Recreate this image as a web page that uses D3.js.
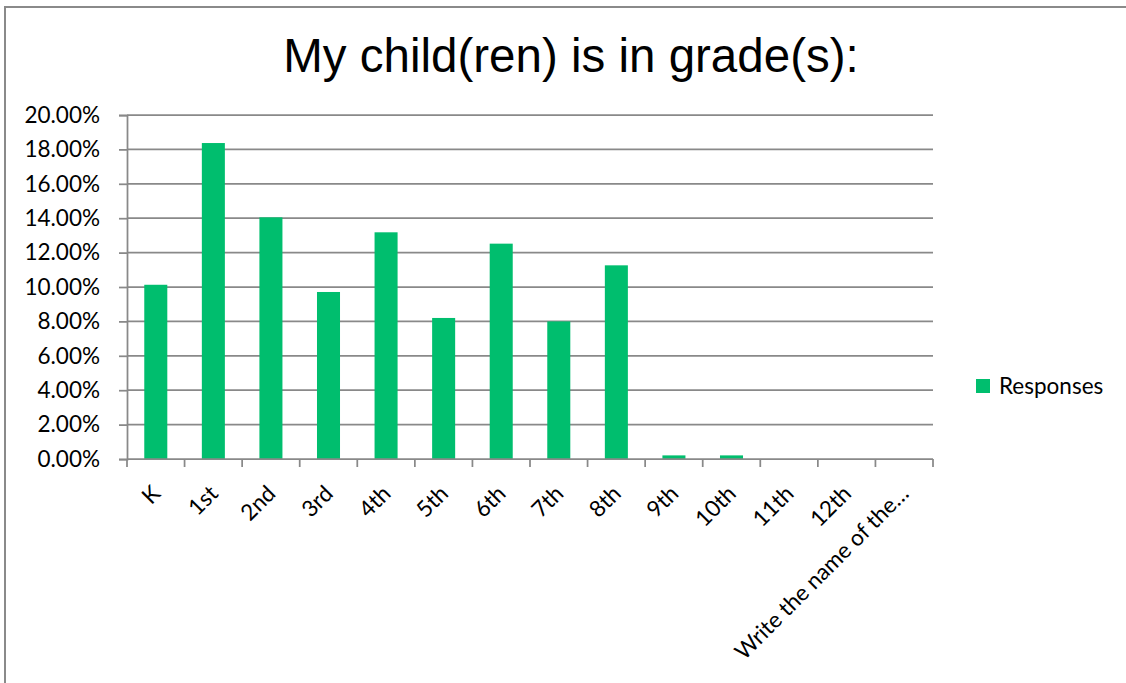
<!DOCTYPE html>
<html>
<head>
<meta charset="utf-8">
<script src="https://cdn.jsdelivr.net/npm/d3@7"></script>
<style>
  html, body { margin: 0; padding: 0; background: #fff; }
  svg { display: block; }
</style>
</head>
<body>
<svg id="chart" width="1126" height="683"></svg>
<script>
// Survey question and answer categories
const title = "My child(ren) is in grade(s):";
const categories = ["K", "1st", "2nd", "3rd", "4th", "5th", "6th", "7th", "8th",
                    "9th", "10th", "11th", "12th", "Write the name of the…"];
// Share of responses per grade
const responses = [0.1013, 0.1837, 0.1405, 0.0971, 0.1318, 0.0820, 0.1252, 0.0800, 0.1126,
                   0.0021, 0.0021, 0, 0, 0];
const yTickValues = [0, 0.02, 0.04, 0.06, 0.08, 0.10, 0.12, 0.14, 0.16, 0.18, 0.20];
const seriesName = "Responses";

const green = "#00BE6E";
const gridColor = "#898989";
const labelFont = "Lato, 'Open Sans', sans-serif";
const labelSize = 22.5;

const svg = d3.select("#chart");

// Frame around the chart area (extends past the right and bottom edges)
svg.append("rect")
  .attr("x", 5).attr("y", 7)
  .attr("width", 1400).attr("height", 1000)
  .attr("fill", "none")
  .attr("stroke", "#8a8a8a")
  .attr("stroke-width", 2);

const plot = { left: 127, right: 933, top: 115, bottom: 459 };

const x = d3.scaleBand()
  .domain(categories)
  .range([plot.left, plot.right])
  .paddingInner(0.6)
  .paddingOuter(0.3);

const xEdges = d3.scaleLinear()
  .domain([0, categories.length])
  .range([plot.left, plot.right]);

const y = d3.scaleLinear()
  .domain([0, 0.20])
  .range([plot.bottom, plot.top]);

// Title
svg.append("text")
  .attr("x", 571)
  .attr("y", 72)
  .attr("text-anchor", "middle")
  .attr("font-family", "'Liberation Sans', Arial, sans-serif")
  .attr("font-size", 47.5)
  .attr("fill", "#000")
  .text(title);

// Horizontal gridlines
svg.append("g")
  .selectAll("line")
  .data(yTickValues.slice(1))
  .join("line")
  .attr("x1", plot.left).attr("x2", plot.right)
  .attr("y1", d => y(d)).attr("y2", d => y(d))
  .attr("stroke", gridColor)
  .attr("stroke-width", 1.75);

// Bars
svg.append("g")
  .selectAll("rect")
  .data(categories.map((c, i) => ({ c, v: responses[i] })))
  .join("rect")
  .attr("x", d => x(d.c))
  .attr("width", x.bandwidth())
  .attr("y", d => y(d.v))
  .attr("height", d => y(0) - y(d.v))
  .attr("fill", green);

// Y axis
const yAxis = svg.append("g")
  .attr("transform", `translate(${plot.left},0)`)
  .call(d3.axisLeft(y)
    .tickValues(yTickValues)
    .tickFormat(d3.format(".2%"))
    .tickSize(8)
    .tickPadding(19));
yAxis.select(".domain").attr("stroke", gridColor).attr("stroke-width", 1.75);
yAxis.selectAll(".tick line").attr("stroke", gridColor).attr("stroke-width", 1.75);
yAxis.selectAll(".tick text")
  .attr("font-family", labelFont)
  .attr("font-size", labelSize)
  .attr("fill", "#000");

// X axis baseline and boundary ticks
const xAxis = svg.append("g");
xAxis.append("line")
  .attr("x1", plot.left).attr("x2", plot.right)
  .attr("y1", y(0)).attr("y2", y(0))
  .attr("stroke", gridColor)
  .attr("stroke-width", 1.75);
xAxis.selectAll("line.edge")
  .data(d3.range(categories.length + 1))
  .join("line")
  .attr("class", "edge")
  .attr("x1", d => xEdges(d)).attr("x2", d => xEdges(d))
  .attr("y1", y(0)).attr("y2", y(0) + 8)
  .attr("stroke", gridColor)
  .attr("stroke-width", 1.75);

// Rotated category labels
xAxis.selectAll("text")
  .data(categories)
  .join("text")
  .attr("transform", d => `translate(${x(d) + x.bandwidth() / 2 + 6},${y(0) + 36}) rotate(-45)`)
  .attr("text-anchor", "end")
  .attr("font-family", labelFont)
  .attr("font-size", labelSize)
  .attr("fill", "#000")
  .text(d => d);

// Legend
const legend = svg.append("g").attr("transform", "translate(976,379)");
legend.append("rect")
  .attr("width", 14).attr("height", 14)
  .attr("fill", green);
legend.append("text")
  .attr("x", 23).attr("y", 14.5)
  .attr("font-family", labelFont)
  .attr("font-size", labelSize)
  .attr("fill", "#000")
  .text(seriesName);
</script>
</body>
</html>
